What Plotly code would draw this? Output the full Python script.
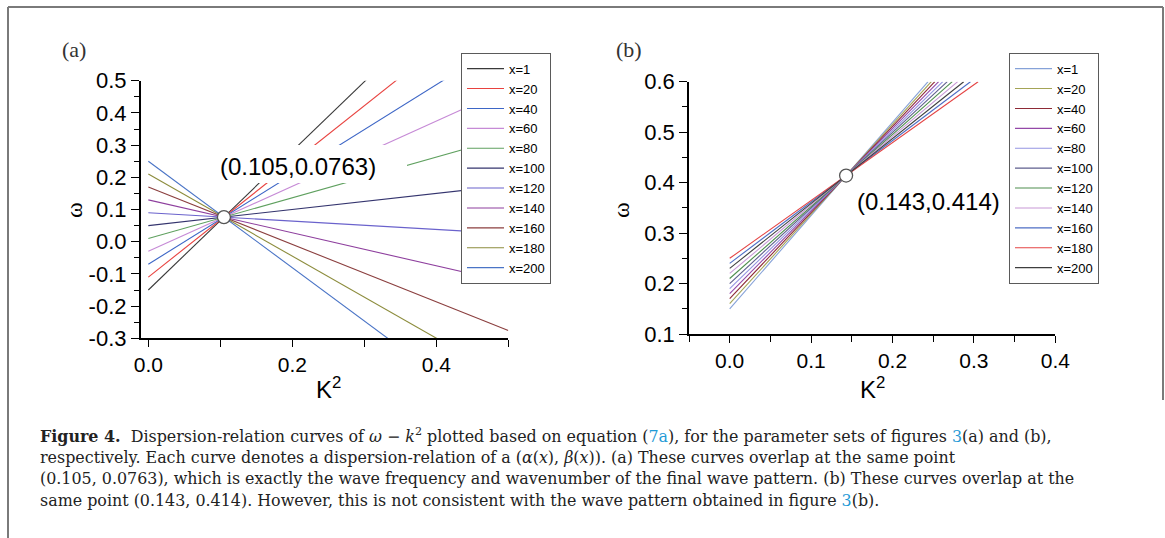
import plotly.graph_objects as go

W, H = 1165, 538

def px(x):
    return x / W

def py(y):
    return 1 - y / H

# ---------------- data ----------------
labels = ["x=1", "x=20", "x=40", "x=60", "x=80", "x=100",
          "x=120", "x=140", "x=160", "x=180", "x=200"]

# panel (a): straight lines from K^2 = 0 to K^2 = 0.5 (clipped by axes)
a_k_start = [0.0] * 11
a_w_start = [-0.15, -0.11, -0.07, -0.03, 0.01, 0.05, 0.09, 0.13, 0.17, 0.21, 0.25]
a_k_end = [0.5] * 11
a_w_end = [0.928, 0.777, 0.627, 0.476, 0.326, 0.175, 0.025, -0.126, -0.276, -0.427, -0.577]
a_colors = ["#3a3a3a", "#e8423f", "#3d66c6", "#c68ad6", "#5fa05f", "#34346e",
            "#6a62cc", "#8e3f9e", "#8b3f3f", "#8c8c3c", "#4a74c6"]
a_point = (0.105, 0.0763)

# panel (b): straight lines from K^2 = 0 up to omega = 0.6
b_k_start = [0.0] * 11
b_w_start = [0.15, 0.16, 0.17, 0.18, 0.19, 0.20, 0.21, 0.22, 0.24, 0.25, 0.23]
b_k_end = [0.2437, 0.2477, 0.2520, 0.2567, 0.2618, 0.2673, 0.2734, 0.2801, 0.2958, 0.3052, 0.2875]
b_w_end = [0.6] * 11
b_colors = ["#86a2d8", "#a4a456", "#8e2a36", "#9448a8", "#9494e2", "#5e5e8e",
            "#4e8e4e", "#c898d6", "#4e6ec4", "#e44444", "#3e3e3e"]
b_point = (0.143, 0.414)

a_xticks = [0.0, 0.2, 0.4]
a_xticklabels = ["0.0", "0.2", "0.4"]
a_yticks = [-0.3, -0.2, -0.1, 0.0, 0.1, 0.2, 0.3, 0.4, 0.5]
a_yticklabels = ["-0.3", "-0.2", "-0.1", "0.0", "0.1", "0.2", "0.3", "0.4", "0.5"]
b_xticks = [0.0, 0.1, 0.2, 0.3, 0.4]
b_xticklabels = ["0.0", "0.1", "0.2", "0.3", "0.4"]
b_yticks = [0.1, 0.2, 0.3, 0.4, 0.5, 0.6]
b_yticklabels = ["0.1", "0.2", "0.3", "0.4", "0.5", "0.6"]

# ---------------- figure ----------------
fig = go.Figure()
SANS = "Liberation Sans, Arial, sans-serif"
SERIF = "Liberation Serif, Times New Roman, serif"
CAPSERIF = "DejaVu Serif, Liberation Serif, serif"

for i in range(11):
    fig.add_trace(go.Scatter(
        x=[a_k_start[i], a_k_end[i]], y=[a_w_start[i], a_w_end[i]],
        mode="lines", name=labels[i], line=dict(color=a_colors[i], width=1.1),
        xaxis="x", yaxis="y", legend="legend", hoverinfo="skip"))

for i in range(11):
    fig.add_trace(go.Scatter(
        x=[b_k_start[i], b_k_end[i]], y=[b_w_start[i], b_w_end[i]],
        mode="lines", name=labels[i], line=dict(color=b_colors[i], width=1.1),
        xaxis="x2", yaxis="y2", legend="legend2", hoverinfo="skip"))

fig.add_trace(go.Scatter(
    x=[a_point[0]], y=[a_point[1]], mode="markers", showlegend=False,
    marker=dict(symbol="circle", size=13, color="white",
                line=dict(color="#555555", width=1.3)),
    xaxis="x", yaxis="y", cliponaxis=False, hoverinfo="skip"))
fig.add_trace(go.Scatter(
    x=[b_point[0]], y=[b_point[1]], mode="markers", showlegend=False,
    marker=dict(symbol="circle", size=13, color="white",
                line=dict(color="#555555", width=1.3)),
    xaxis="x2", yaxis="y2", cliponaxis=False, hoverinfo="skip"))

axis_common = dict(showline=True, linecolor="black", linewidth=1.6,
                   ticks="outside", tickcolor="black", tickwidth=1.4,
                   showgrid=False, zeroline=False, mirror=False, automargin=False)

xfont = dict(family=SANS, size=21, color="black")
yfont = dict(family=SANS, size=22, color="black")

legend_common = dict(xanchor="left", yanchor="top", bgcolor="white",
                     bordercolor="#5a5a5a", borderwidth=1,
                     font=dict(family=SANS, size=13, color="black"),
                     tracegroupgap=0, itemwidth=37)

fig.update_layout(
    template="none",
    width=W, height=H, margin=dict(l=0, r=0, t=0, b=0, pad=0, autoexpand=False),
    paper_bgcolor="white", plot_bgcolor="white",
    xaxis=dict(domain=[px(140.7), px(508.3)], range=[-0.0106, 0.5],
               anchor="y", tickvals=a_xticks, ticktext=a_xticklabels, ticklen=7,
               tickfont=xfont,
               minor=dict(dtick=0.1, tick0=0, ticklen=7, tickwidth=1.4,
                          tickcolor="black", ticks="outside", showgrid=False),
               **axis_common),
    yaxis=dict(domain=[py(338.3), py(80.7)], range=[-0.3, 0.5],
               anchor="x", tickvals=a_yticks, ticktext=a_yticklabels, ticklen=8,
               tickfont=yfont,
               minor=dict(dtick=0.05, tick0=0, ticklen=5, tickwidth=1.4,
                          tickcolor="black", ticks="outside", showgrid=False),
               **axis_common),
    xaxis2=dict(domain=[px(689), px(1055.3)], range=[-0.05, 0.4],
                anchor="y2", tickvals=b_xticks, ticktext=b_xticklabels, ticklen=7,
                tickfont=xfont,
                minor=dict(dtick=0.05, tick0=0, ticklen=6, tickwidth=1.4,
                           tickcolor="black", ticks="outside", showgrid=False),
                **axis_common),
    yaxis2=dict(domain=[py(334), py(81.7)], range=[0.1, 0.6],
                anchor="x2", tickvals=b_yticks, ticktext=b_yticklabels, ticklen=8,
                tickfont=yfont,
                minor=dict(dtick=0.05, tick0=0, ticklen=5, tickwidth=1.4,
                           tickcolor="black", ticks="outside", showgrid=False),
                **axis_common),
    legend=dict(x=px(461), y=py(52.7), **legend_common),
    legend2=dict(x=px(1009), y=py(52.7), **legend_common),
    showlegend=True,
    hovermode=False,
)

shapes = [
    # white box behind the point label in panel (a)
    dict(type="rect", xref="paper", yref="paper", x0=px(214), x1=px(407),
         y0=py(183), y1=py(145), fillcolor="white", line=dict(width=0), layer="above"),
    # page frame
    dict(type="line", xref="paper", yref="paper", x0=px(8), x1=px(1163),
         y0=py(7), y1=py(7), line=dict(color="#7a7a7a", width=2)),
    dict(type="line", xref="paper", yref="paper", x0=px(8), x1=px(8),
         y0=py(7), y1=py(538), line=dict(color="#7a7a7a", width=2)),
    dict(type="line", xref="paper", yref="paper", x0=px(1163), x1=px(1163),
         y0=py(7), y1=py(400), line=dict(color="#7a7a7a", width=2)),
]
fig.update_layout(shapes=shapes)

ann = []
def add_text(x, y, text, size, family=SANS, xanchor="center", yanchor="middle",
             angle=0, color="black"):
    ann.append(dict(xref="paper", yref="paper", x=px(x), y=py(y), text=text,
                    showarrow=False, xanchor=xanchor, yanchor=yanchor,
                    textangle=angle, font=dict(family=family, size=size, color=color)))

add_text(298, 167, "(0.105,0.0763)", 24)
add_text(928, 201, "(0.143,0.414)", 24)
add_text(60, 49, "(a)", 22, family=SERIF, xanchor="left", color="#333333")
add_text(614, 49, "(b)", 22, family=SERIF, xanchor="left", color="#333333")
add_text(74, 210, "ω", 24, family=SERIF, angle=-90)
add_text(621, 210, "ω", 24, family=SERIF, angle=-90)
add_text(328, 388, "K<sup>2</sup>", 24)
add_text(872, 388, "K<sup>2</sup>", 24)

LINK = "#1f9ad6"
cap = [
    "<b>Figure 4.</b>  Dispersion-relation curves of <i>ω</i> − <i>k</i><sup>2</sup> plotted based on equation "
    "(<span style='color:%s'>7a</span>), for the parameter sets of figures <span style='color:%s'>3</span>(a) and (b)," % (LINK, LINK),
    "respectively. Each curve denotes a dispersion-relation of a (<i>α</i>(<i>x</i>), <i>β</i>(<i>x</i>)). "
    "(a) These curves overlap at the same point",
    "(0.105, 0.0763), which is exactly the wave frequency and wavenumber of the final wave pattern. "
    "(b) These curves overlap at the",
    "same point (0.143, 0.414). However, this is not consistent with the wave pattern obtained in figure "
    "<span style='color:%s'>3</span>(b)." % LINK,
]
cap_y = [435, 457, 478, 500]
for t, yy in zip(cap, cap_y):
    add_text(38, yy, t, 15.9, family=CAPSERIF, xanchor="left", color="#222222")

fig.update_layout(annotations=ann)

fig.write_html("out.html", config={"displayModeBar": False},
               post_script="document.body.style.margin='0px';")
